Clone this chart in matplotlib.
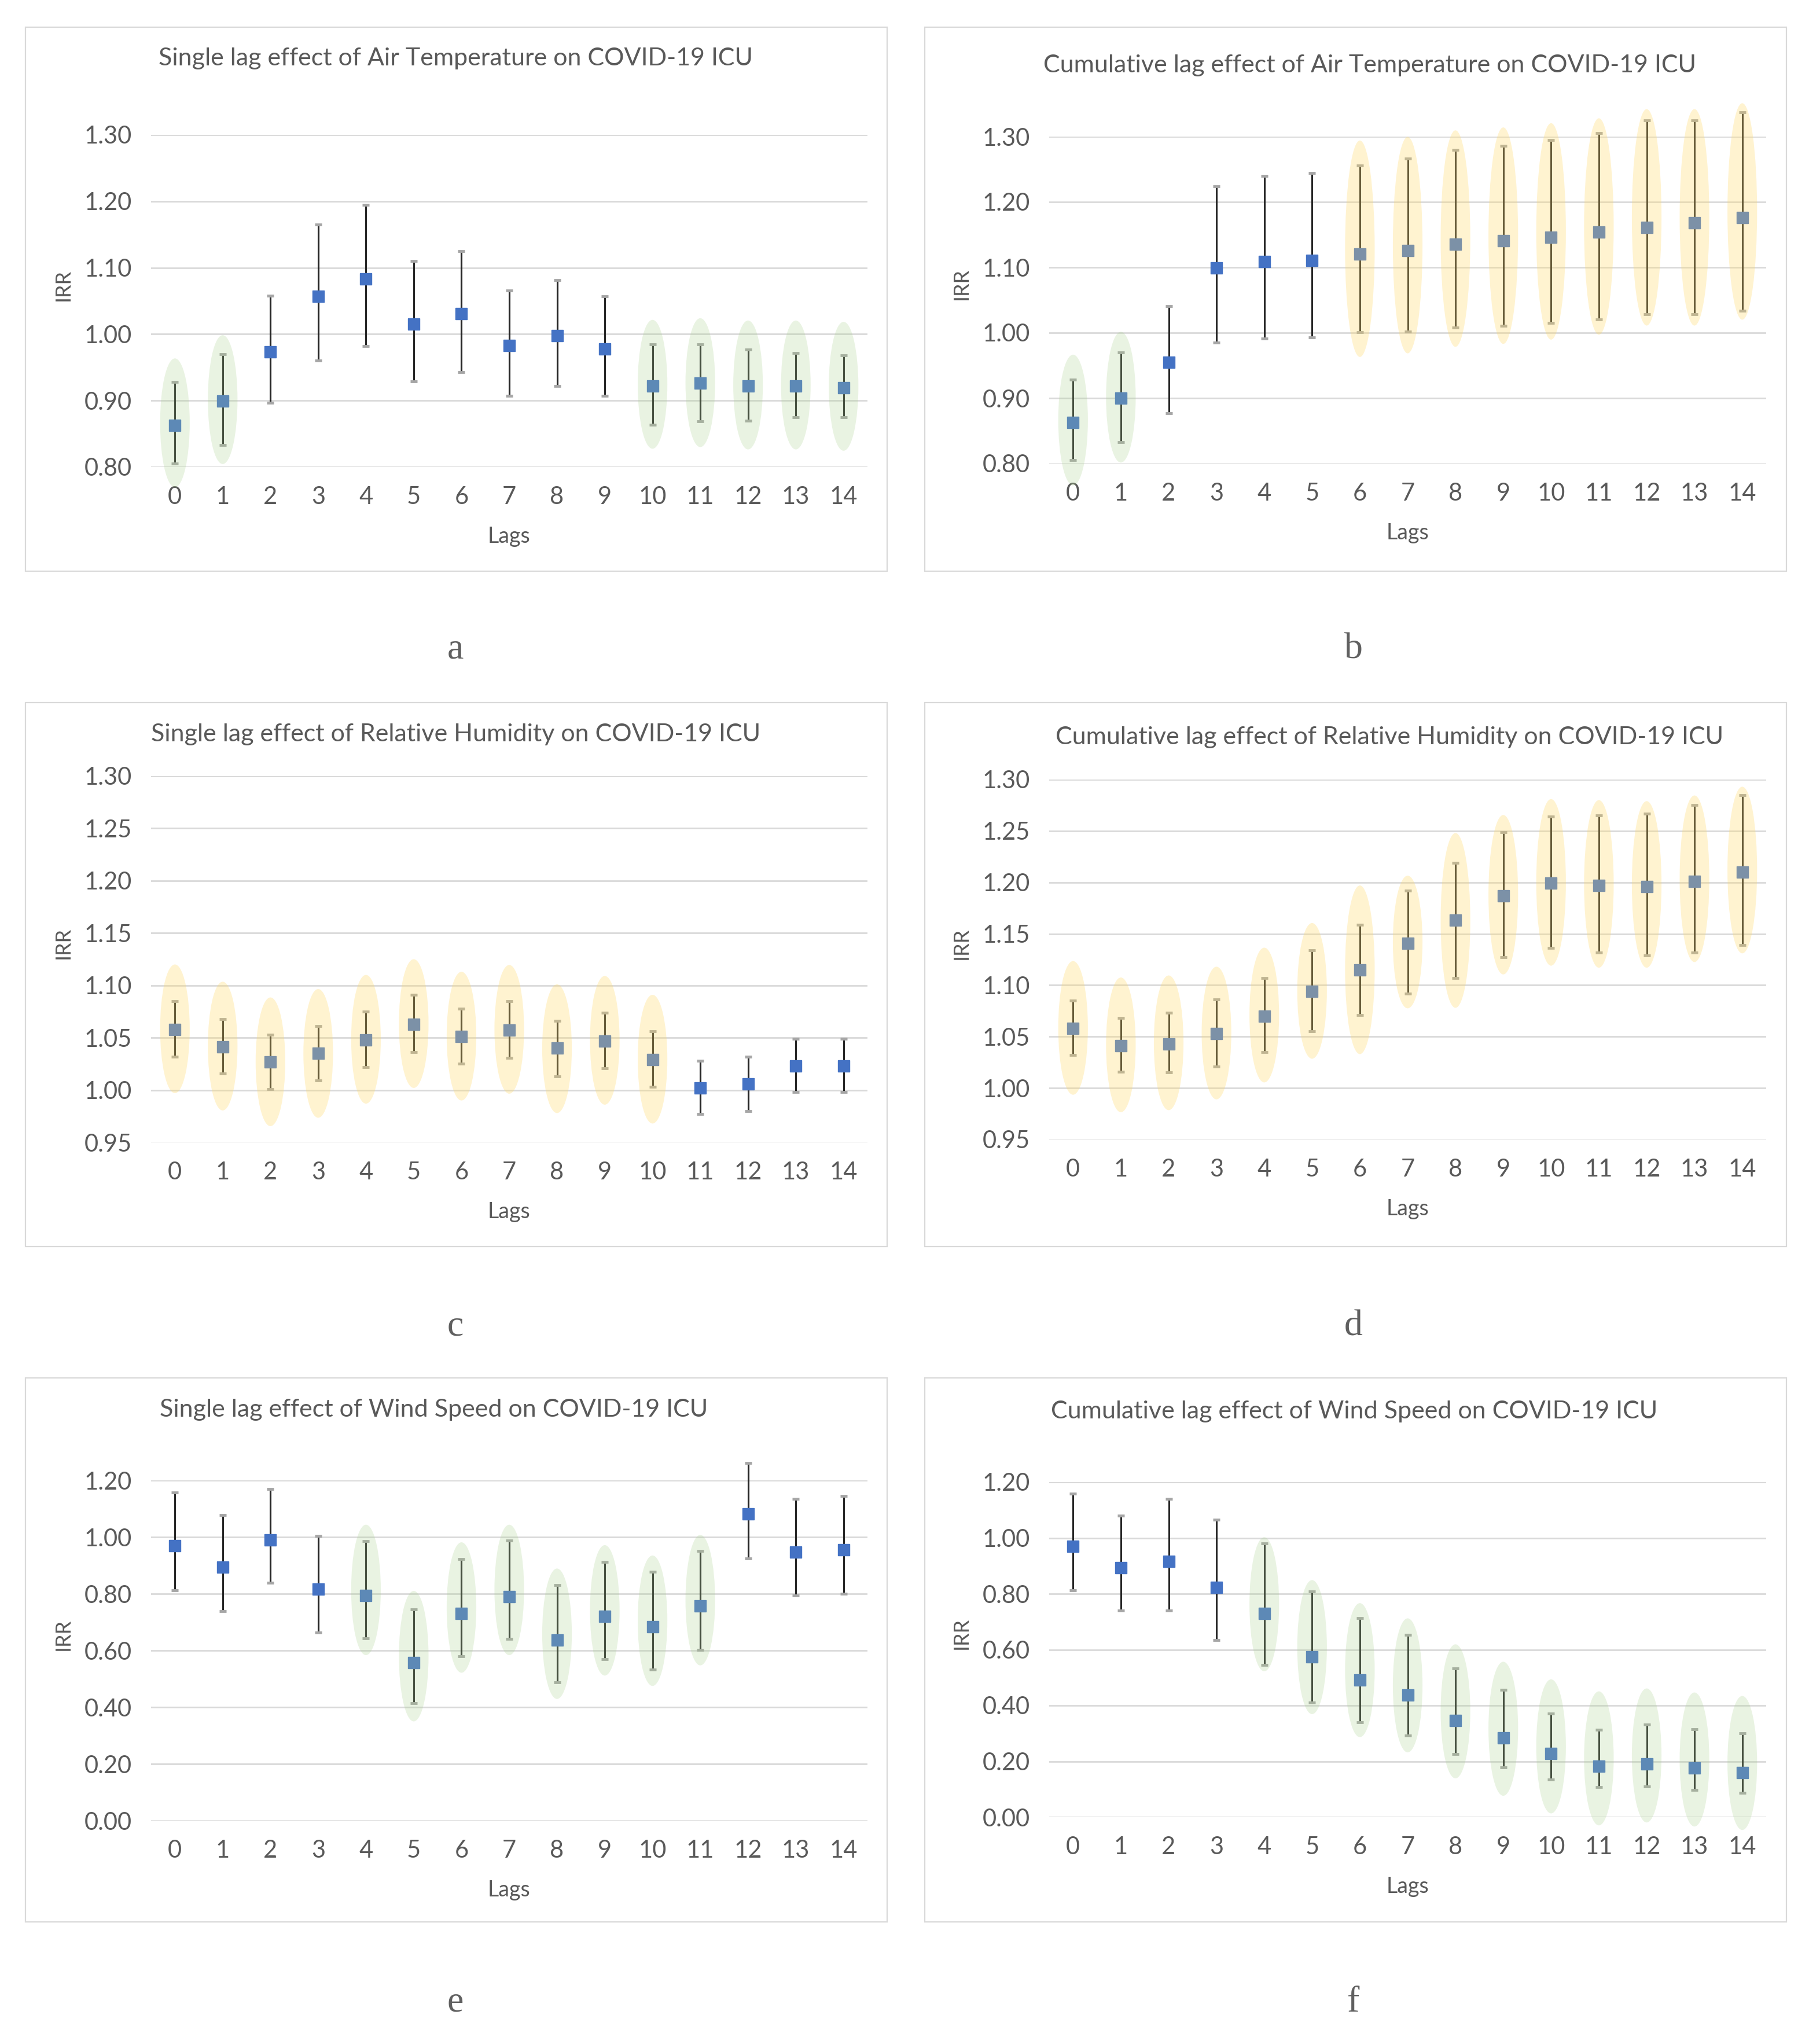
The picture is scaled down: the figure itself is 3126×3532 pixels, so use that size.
import numpy as np
import matplotlib.pyplot as plt
from matplotlib.patches import Ellipse, Rectangle

# ==============================================================================
# DATA
# ==============================================================================
lags = list(range(15))

# a: single lag, air temperature
a_irr = [0.863, 0.899, 0.973, 1.057, 1.083, 1.015, 1.031, 0.983, 0.998, 0.978, 0.922, 0.926, 0.922, 0.922, 0.919]
a_lo  = [0.805, 0.833, 0.897, 0.960, 0.982, 0.929, 0.943, 0.907, 0.922, 0.907, 0.864, 0.869, 0.870, 0.875, 0.875]
a_hi  = [0.928, 0.970, 1.058, 1.165, 1.195, 1.110, 1.125, 1.066, 1.081, 1.057, 0.985, 0.985, 0.977, 0.972, 0.968]
a_ell = [0.194, 0.194, 0, 0, 0, 0, 0, 0, 0, 0, 0.194, 0.194, 0.194, 0.194, 0.194]

# b: cumulative lag, air temperature
b_irr = [0.863, 0.900, 0.955, 1.099, 1.109, 1.111, 1.120, 1.126, 1.135, 1.141, 1.146, 1.154, 1.161, 1.168, 1.176]
b_lo  = [0.805, 0.833, 0.877, 0.985, 0.991, 0.993, 1.001, 1.002, 1.008, 1.011, 1.015, 1.020, 1.028, 1.028, 1.034]
b_hi  = [0.928, 0.970, 1.041, 1.224, 1.240, 1.244, 1.256, 1.266, 1.280, 1.286, 1.295, 1.305, 1.325, 1.325, 1.337]
b_ell = [0.200, 0.200, 0, 0, 0, 0, 0.331, 0.331, 0.331, 0.331, 0.331, 0.331, 0.331, 0.331, 0.331]

# c: single lag, relative humidity
c_irr = [1.058, 1.041, 1.027, 1.035, 1.048, 1.063, 1.051, 1.057, 1.040, 1.047, 1.029, 1.002, 1.006, 1.023, 1.023]
c_lo  = [1.032, 1.016, 1.001, 1.009, 1.022, 1.036, 1.025, 1.031, 1.013, 1.021, 1.003, 0.977, 0.980, 0.998, 0.998]
c_hi  = [1.085, 1.068, 1.053, 1.061, 1.075, 1.091, 1.078, 1.085, 1.066, 1.074, 1.056, 1.028, 1.032, 1.049, 1.049]
c_ell = [0.123] * 11 + [0, 0, 0, 0]

# d: cumulative lag, relative humidity
d_irr = [1.058, 1.041, 1.043, 1.053, 1.070, 1.094, 1.115, 1.141, 1.163, 1.187, 1.199, 1.197, 1.196, 1.201, 1.210]
d_lo  = [1.032, 1.016, 1.015, 1.021, 1.035, 1.055, 1.071, 1.092, 1.107, 1.127, 1.136, 1.132, 1.129, 1.132, 1.139]
d_hi  = [1.085, 1.068, 1.073, 1.086, 1.107, 1.134, 1.159, 1.192, 1.219, 1.249, 1.264, 1.265, 1.267, 1.275, 1.285]
d_ell = [0.130, 0.131, 0.131, 0.129, 0.131, 0.132, 0.164, 0.129, 0.170, 0.155, 0.162, 0.163, 0.162, 0.162, 0.162]

# e: single lag, wind speed
e_irr = [0.970, 0.893, 0.990, 0.816, 0.794, 0.557, 0.731, 0.790, 0.636, 0.721, 0.684, 0.758, 1.082, 0.947, 0.956]
e_lo  = [0.812, 0.738, 0.838, 0.664, 0.642, 0.415, 0.580, 0.640, 0.488, 0.570, 0.532, 0.603, 0.925, 0.793, 0.800]
e_hi  = [1.158, 1.078, 1.170, 1.005, 0.985, 0.745, 0.923, 0.987, 0.830, 0.913, 0.878, 0.952, 1.262, 1.135, 1.145]
e_ell = [0, 0, 0, 0] + [0.46] * 8 + [0, 0, 0]

# f: cumulative lag, wind speed
f_irr = [0.970, 0.893, 0.916, 0.822, 0.730, 0.575, 0.492, 0.437, 0.347, 0.284, 0.228, 0.183, 0.190, 0.177, 0.160]
f_lo  = [0.812, 0.740, 0.740, 0.635, 0.545, 0.410, 0.340, 0.292, 0.225, 0.178, 0.135, 0.108, 0.110, 0.098, 0.088]
f_hi  = [1.158, 1.080, 1.140, 1.065, 0.980, 0.808, 0.713, 0.652, 0.533, 0.455, 0.372, 0.313, 0.332, 0.315, 0.300]
f_ell = [0, 0, 0, 0] + [0.48] * 11

titles = [
    "Single lag effect of Air Temperature on COVID-19 ICU",
    "Cumulative lag effect of Air Temperature on COVID-19 ICU",
    "Single lag effect of Relative Humidity on COVID-19 ICU",
    "Cumulative lag effect of Relative Humidity on COVID-19 ICU",
    "Single lag effect of Wind Speed on COVID-19 ICU",
    "Cumulative lag effect of Wind Speed on COVID-19 ICU",
]
letters = ["a", "b", "c", "d", "e", "f"]
yticks = [
    [0.80, 0.90, 1.00, 1.10, 1.20, 1.30],
    [0.80, 0.90, 1.00, 1.10, 1.20, 1.30],
    [0.95, 1.00, 1.05, 1.10, 1.15, 1.20, 1.25, 1.30],
    [0.95, 1.00, 1.05, 1.10, 1.15, 1.20, 1.25, 1.30],
    [0.00, 0.20, 0.40, 0.60, 0.80, 1.00, 1.20],
    [0.00, 0.20, 0.40, 0.60, 0.80, 1.00, 1.20],
]
series = [
    (a_irr, a_lo, a_hi, a_ell),
    (b_irr, b_lo, b_hi, b_ell),
    (c_irr, c_lo, c_hi, c_ell),
    (d_irr, d_lo, d_hi, d_ell),
    (e_irr, e_lo, e_hi, e_ell),
    (f_irr, f_lo, f_hi, f_ell),
]

# ==============================================================================
# LAYOUT (pixels on a 3126 x 3532 canvas)
# ==============================================================================
W, H = 3126, 3532
# axes: left, right, y of top tick, y of bottom tick
axes_px = [
    (261, 1499, 233, 807),
    (1813, 3052, 236, 801),
    (261, 1499, 1341, 1974),
    (1813, 3052, 1347, 1969),
    (261, 1499, 2558, 3146),
    (1813, 3052, 2561, 3140),
]
box_px = [
    (44, 47, 1533, 987), (1598, 47, 3087, 987),
    (44, 1214, 1533, 2154), (1598, 1214, 3087, 2154),
    (44, 2381, 1533, 3321), (1598, 2381, 3087, 3321),
]
title_px = [(787, 101), (2367, 113), (788, 1269), (2401, 1274), (750, 2436), (2340, 2439)]
letter_px = [(787, 1122), (2339, 1122), (787, 2292), (2339, 2292), (787, 3461), (2339, 3461)]

BLUE   = "#4472C4"
GREEN  = "#A9D18E"
YELLOW = "#FFD966"
GRID   = "#D9D9D9"
TEXT   = "#595959"
CAP    = "#A6A6A6"
FONT   = "Lato"

plt.rcParams['font.family'] = [FONT, 'DejaVu Sans']

fig = plt.figure(figsize=(W / 100, H / 100), dpi=100)
fig.patch.set_facecolor("white")


def fx(x):
    return x / W


def fy(y):
    return 1 - y / H


for i in range(6):
    irr, lo, hi, ell = [np.array(v, dtype=float) for v in series[i]]
    x0, x1, yt, yb = axes_px[i]

    # panel frame
    bx0, by0, bx1, by1 = box_px[i]
    fig.patches.append(Rectangle((fx(bx0), fy(by1)), fx(bx1 - bx0), (by1 - by0) / H,
                                 transform=fig.transFigure, fill=False,
                                 edgecolor=GRID, linewidth=1.6, zorder=0))

    ax = fig.add_axes([fx(x0), fy(yb), fx(x1 - x0), (yb - yt) / H])
    ax.set_facecolor("none")
    ticks = yticks[i]
    ax.set_ylim(ticks[0], ticks[-1])
    ax.set_xlim(-0.5, 14.5)
    ax.set_yticks(ticks)
    ax.set_yticklabels([f"{t:.2f}" for t in ticks])
    ax.set_xticks(lags)
    ax.set_xticklabels([str(l) for l in lags])
    ax.tick_params(length=0, labelsize=30, labelcolor=TEXT, pad=24)
    for s in ax.spines.values():
        s.set_visible(False)
    ax.yaxis.grid(True, color=GRID, linewidth=2.0, zorder=0)
    ax.set_axisbelow(True)

    eb = ax.errorbar(lags, irr, yerr=[irr - lo, hi - irr], fmt="s",
                     color=BLUE, markersize=14, ecolor="#262626",
                     elinewidth=2.2, capsize=4.5, capthick=3.5, zorder=3)
    eb[0].set_clip_on(False)
    for cl in eb[1]:
        cl.set_markeredgecolor(CAP)
        cl.set_markerfacecolor(CAP)
        cl.set_clip_on(False)
    for bl in eb[2]:
        bl.set_clip_on(False)

    # highlight ellipses drawn on top, semi transparent
    for k in lags:
        if ell[k] > 0:
            col = YELLOW if irr[k] > 1 else GREEN
            a = 0.30 if irr[k] > 1 else 0.25
            ax.add_patch(Ellipse((k, (lo[k] + hi[k]) / 2), 0.62, ell[k],
                                 facecolor=col, edgecolor="none", alpha=a,
                                 zorder=4, clip_on=False))

    fig.text(fx(title_px[i][0]), fy(title_px[i][1]), titles[i], fontsize=31,
             color=TEXT, ha="center", va="center")
    fig.text(fx(x0 - 152), fy((yt + yb) / 2 - 28), "IRR", fontsize=26,
             color=TEXT, ha="center", va="center", rotation=90)
    fig.text(fx((x0 + x1) / 2), fy(yb + 120), "Lags", fontsize=27,
             color=TEXT, ha="center", va="center")
    fig.text(fx(letter_px[i][0]), fy(letter_px[i][1]), letters[i], fontsize=46,
             color="#606060", ha="center", va="center", family="Liberation Serif")

fig.savefig("out.png", dpi=100, facecolor="white")
